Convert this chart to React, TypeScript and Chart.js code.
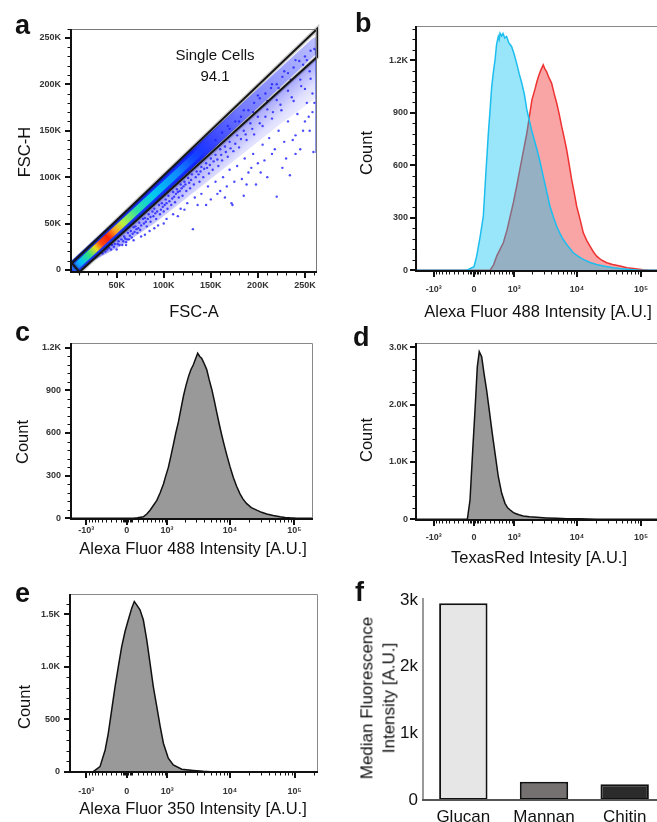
import React, { useEffect, useRef } from 'react';
import { Chart, registerables, Scale } from 'chart.js';

Chart.register(...registerables);

const FONT = 'Arial, "Liberation Sans", Helvetica, sans-serif';
const ASINH_C = 500;

// ---------- custom biexponential-like (asinh) scale, as FlowJo axes ----------
class AsinhScale extends (Scale as any) {
  static id = 'asinh';
  static defaults = {};
  determineDataLimits() {
    this.min = this.options.min;
    this.max = this.options.max;
  }
  buildTicks() {
    return [];
  }
  configure() {
    super.configure();
    this._tMin = Math.asinh(this.min / ASINH_C);
    this._tMax = Math.asinh(this.max / ASINH_C);
  }
  getLabelForValue(v: number) {
    return String(v);
  }
  getPixelForValue(v: number) {
    const t = Math.asinh(v / ASINH_C);
    return this.getPixelForDecimal((t - this._tMin) / (this._tMax - this._tMin));
  }
  getValueForPixel(p: number) {
    const d = this.getDecimalForPixel(p);
    return ASINH_C * Math.sinh(this._tMin + d * (this._tMax - this._tMin));
  }
}
Chart.register(AsinhScale as any);

type Pt = [number, number];

// ---------------- DATA ----------------
// panel a : FSC-A vs FSC-H (thousands)
const fscTickVals = [0, 50, 100, 150, 200, 250];
const fscTickLabels = ['0', '50K', '100K', '150K', '200K', '250K'];
const fscXTickVals = [50, 100, 150, 200, 250];
const fscXTickLabels = ['50K', '100K', '150K', '200K', '250K'];
const fscMinor = [10, 20, 30, 40, 60, 70, 80, 90, 110, 120, 130, 140, 160, 170, 180, 190, 210, 220, 230, 240, 260];
const gatePts: Pt[] = [[2.5, 7.5], [262.8, 259.5], [262.8, 229.3], [10.5, -2.2], [2.5, 7.5]];
const bandLine: Pt[] = [[4, 1.5], [262, 243]];
const coreLine: Pt[] = [[6, 3], [150, 138]];
const edgeStreak: Pt[] = [[262.2, 126], [262.2, 238]];
const spillUpper: Pt[] = [[25, 10], [160, 134], [262, 228]];
const spillLower: Pt[] = [[25, 10], [55, 26], [90, 50], [130, 82], [175, 118], [225, 158], [262, 185]];
const fscDots: Pt[] = [
  [40, 22], [45, 27], [48, 28], [52, 31], [55, 33], [58, 36], [62, 40], [65, 42], [68, 46], [70, 47],
  [74, 51], [78, 55], [80, 56], [84, 60], [88, 63], [90, 66], [95, 70], [98, 72], [102, 76], [105, 80],
  [110, 84], [114, 87], [118, 92], [122, 95], [126, 99], [130, 103], [135, 106], [140, 111], [145, 115], [150, 120],
  [155, 124], [160, 130], [165, 133], [170, 138], [178, 145], [185, 150], [192, 158], [200, 165], [210, 173], [220, 183],
  [232, 193], [245, 205], [255, 214],
  [50, 22], [56, 27], [60, 30], [63, 33], [66, 35], [72, 40], [75, 43], [82, 47], [86, 52], [92, 55],
  [96, 60], [100, 63], [104, 66], [108, 70], [112, 73], [116, 78], [120, 80], [124, 85], [128, 88], [132, 92],
  [138, 95], [142, 100], [148, 104], [152, 108], [158, 112], [162, 118], [168, 122], [174, 128], [180, 132], [188, 140],
  [196, 146], [205, 155], [215, 163], [225, 172], [238, 182], [250, 195],
  [60, 27], [68, 32], [76, 36], [85, 42], [94, 48], [103, 55], [110, 60], [118, 66], [125, 72], [133, 78],
  [140, 82], [147, 90], [155, 95], [163, 100], [170, 108], [178, 112], [186, 120], [195, 125], [205, 135], [212, 142],
  [222, 150], [232, 160], [242, 168], [252, 180], [258, 190],
  [131, 44], [173, 70], [220, 79], [234, 102], [259, 127], [145, 70], [160, 85], [175, 95], [190, 105], [200, 115],
  [215, 125], [228, 138], [240, 145], [250, 160], [258, 170], [185, 80], [210, 100], [230, 120], [245, 130], [255, 150],
  [172, 72], [198, 92],
  [155, 140], [162, 148], [170, 152], [176, 160], [182, 165], [190, 172], [196, 180], [202, 185], [208, 190], [214, 196],
  [220, 200], [226, 208], [232, 212], [238, 218], [244, 225], [250, 230], [256, 236], [240, 226], [228, 214], [215, 200],
  [200, 188], [185, 172], [168, 155], [248, 221], [235, 205], [222, 196], [210, 182], [195, 170], [180, 160], [260, 238],
  [252, 226],
  [35, 18], [38, 20], [42, 24], [44, 22], [47, 25], [51, 28], [53, 27], [57, 31], [59, 34], [61, 33],
  [64, 37], [67, 39], [69, 41], [71, 44], [73, 45], [76, 48], [79, 50], [81, 52], [83, 55], [86, 57],
  [89, 58], [91, 61], [93, 63], [97, 65], [99, 68], [101, 70], [103, 72], [106, 74], [109, 77], [111, 79],
  [113, 82], [115, 84], [117, 85], [119, 88], [121, 90], [123, 92], [127, 94], [129, 97], [134, 100], [137, 103],
  [139, 106], [143, 109], [146, 110], [149, 113], [153, 117], [157, 119], [161, 124], [166, 127], [171, 131], [176, 136],
  [182, 141], [187, 146], [194, 152], [202, 158], [208, 165], [216, 170], [224, 178], [236, 186], [246, 198], [256, 206],
  [80, 38], [90, 45], [100, 50], [115, 58], [122, 65], [136, 70], [150, 76], [157, 82], [167, 90], [183, 98],
  [193, 110], [207, 118], [218, 130], [237, 140], [248, 150], [254, 165], [260, 180], [226, 110], [240, 125], [203, 105],
  [188, 92], [165, 78],
];

// FlowJo intensity axes
const intTickVals = [-1000, 0, 1000, 10000, 100000];
const intTickLabels = ['-10³', '0', '10³', '10⁴', '10⁵'];
const intMinor = [-900, -800, -700, -600, -500, -400, -300, -200, -100, -75, -50, -25, 25, 50, 75, 100, 200, 300, 400,
  500, 600, 700, 800, 900, 2000, 3000, 4000, 5000, 6000, 7000, 8000, 9000, 20000, 30000, 40000, 50000, 60000, 70000,
  80000, 90000, 200000];

// panel b
const countTicks300 = [0, 300, 600, 900, 1200];
const countLabels300 = ['0', '300', '600', '900', '1.2K'];
const countMinor300 = [60, 120, 180, 240, 360, 420, 480, 540, 660, 720, 780, 840, 960, 1020, 1080, 1140, 1260, 1320, 1380];
const glucanCtrlX = [-1970, -300, -132, 0, 48, 110, 170, 220, 269, 300,
  339, 380, 414, 450, 493, 515, 537, 580, 619, 670,
  727, 800, 896, 990, 1097, 1210, 1339, 1480, 1623, 1790,
  1962, 2150, 2367, 2650, 2970, 3350, 3787, 4300, 4830, 5450,
  6120, 7300, 8770, 10500, 12570, 16000, 20300, 27000, 36800, 50000,
  67000, 96000, 262144];
const glucanCtrlY = [0, 0, 0, 20, 80, 190, 308, 560, 783, 900,
  1049, 1140, 1202, 1290, 1335, 1318, 1354, 1338, 1352, 1326,
  1335, 1298, 1278, 1236, 1183, 1124, 1069, 1004, 917, 852,
  793, 742, 688, 618, 536, 452, 365, 302, 251, 208,
  175, 136, 99, 78, 61, 44, 32, 22, 13, 8,
  4, 0, 0];
const glucanStainX = [-1970, -1955, -1940, 0, 200, 303, 380, 453, 540, 628,
  740, 847, 970, 1097, 1220, 1339, 1480, 1623, 1790, 1962,
  2100, 2220, 2350, 2495, 2700, 2970, 3150, 3350, 3650, 4020,
  4400, 4830, 5300, 5780, 6300, 6920, 7600, 8280, 9100, 9910,
  11200, 12570, 14200, 15970, 18000, 20300, 24000, 29100, 36000, 46800,
  60000, 75400, 108000, 137000, 262144];
const glucanStainY = [100, 100, 0, 0, 0, 0, 30, 80, 120, 156,
  230, 308, 390, 479, 560, 631, 710, 783, 880, 973,
  1010, 1040, 1075, 1106, 1140, 1173, 1150, 1135, 1100, 1069,
  1010, 955, 890, 821, 760, 688, 600, 517, 440, 365,
  290, 213, 170, 137, 105, 80, 58, 42, 32, 23,
  14, 9, 2, 0, 0];

// panel c
const glucanX = [-1800, 0, 119, 200, 314, 390, 467, 550, 648, 750,
  862, 950, 1047, 1150, 1274, 1400, 1547, 1700, 1870, 2050,
  2257, 2450, 2680, 2900, 3140, 3380, 3620, 3950, 4350, 4750,
  5210, 5700, 6220, 6800, 7450, 8150, 8900, 10000, 11290, 12700,
  14340, 16000, 18220, 21500, 26100, 31000, 37300, 47000, 60100, 72000,
  85900, 109000, 195000];
const glucanY = [0, 0, 0, 4, 11, 30, 57, 90, 126, 180,
  241, 300, 356, 430, 517, 600, 678, 770, 862, 935,
  1000, 1045, 1080, 1120, 1161, 1138, 1126, 1090, 1046, 975,
  908, 830, 747, 665, 586, 515, 448, 365, 287, 225,
  172, 135, 103, 75, 57, 42, 30, 20, 11, 6,
  3, 0, 0];

// panel d
const countTicksK = [0, 1000, 2000, 3000];
const countLabelsK = ['0', '1.0K', '2.0K', '3.0K'];
const countMinorK = [200, 400, 600, 800, 1200, 1400, 1600, 1800, 2200, 2400, 2600, 2800];
const mannanX = [-1970, -150, -121, -72, -23, 18, 59, 95, 139, 183,
  233, 287, 351, 414, 493, 582, 677, 760, 847, 930,
  1021, 1200, 1414, 1800, 2367, 3300, 4830, 7000, 11150, 15000,
  20300, 262144];
const mannanY = [0, 0, 0, 337, 1209, 1907, 2663, 2925, 2838, 2548,
  2257, 1907, 1501, 1152, 743, 454, 279, 200, 162, 130,
  105, 80, 58, 45, 35, 25, 17, 12, 8, 5,
  0, 0];

// panel e
const countTicks500 = [0, 500, 1000, 1500];
const countLabels500 = ['0', '500', '1.0K', '1.5K'];
const countMinor500 = [100, 200, 300, 400, 600, 700, 800, 900, 1100, 1200, 1300, 1400, 1600];
const chitinX = [-1860, -750, -552, -424, -353, -281, -214, -152, -90, -30,
  29, 90, 137, 182, 246, 314, 389, 466, 549, 646,
  751, 859, 1046, 1271, 1750, 2670, 3830, 4880, 231000];
const chitinY = [0, 0, 48, 207, 366, 589, 811, 1002, 1193, 1336,
  1448, 1559, 1622, 1591, 1543, 1448, 1257, 1034, 811, 620,
  429, 271, 128, 64, 23, 12, 3, 0, 0];

// panel f
const mfiCategories = ['Glucan', 'Mannan', 'Chitin'];
const mfiValues = [2950, 275, 236];
const mfiTicks = [0, 1000, 2000, 3000];
const mfiTickLabels = ['0', '1k', '2k', '3k'];

// ---------------- helpers ----------------
const toXY = (xs: number[], ys: number[]) => xs.map((x, i) => ({ x, y: ys[i] }));
const ptsXY = (p: Pt[]) => p.map(([x, y]) => ({ x, y }));

function axisOpts(type: string, min: number, max: number, vals: number[], labels: string[], pad: number,
  fit: { w?: number; h?: number }, size = 9, bold = true, color = '#333') {
  return {
    type, min, max, bounds: 'data',
    grid: { display: false, drawTicks: false },
    border: { display: false },
    afterBuildTicks: (s: any) => { s.ticks = vals.map((v) => ({ value: v })); },
    afterFit: (s: any) => {
      if (fit.w !== undefined) s.width = fit.w;
      if (fit.h !== undefined) s.height = fit.h;
    },
    ticks: {
      autoSkip: false, maxRotation: 0, minRotation: 0, padding: pad, color,
      font: { family: FONT, size, weight: bold ? 'bold' : 'normal' },
      callback: (v: number) => { const i = vals.indexOf(v); return i >= 0 ? labels[i] : ''; },
    },
  };
}

const axesPlugin = {
  id: 'axesPlugin',
  afterDraw(chart: any, _a: any, o: any) {
    if (!o || !o.on) return;
    const { ctx, chartArea, scales } = chart;
    const L = chartArea.left, R = chartArea.right, T = chartArea.top, B = chartArea.bottom;
    ctx.save();
    if (o.frame) {
      ctx.strokeStyle = o.frame;
      ctx.lineWidth = 1;
      ctx.beginPath();
      ctx.moveTo(L, T + 0.5); ctx.lineTo(R - 0.5, T + 0.5); ctx.lineTo(R - 0.5, B);
      ctx.stroke();
    }
    const xs = scales.x, ys = scales.y;
    const xt = (v: number, len: number, w: number) => {
      const p = xs.getPixelForValue(v);
      if (p < L - 0.5 || p > R + 0.5) return;
      const px = w % 2 === 1 ? Math.round(p) + 0.5 : Math.round(p);
      ctx.lineWidth = w; ctx.beginPath(); ctx.moveTo(px, B); ctx.lineTo(px, B + len); ctx.stroke();
    };
    const yt = (v: number, len: number, w: number) => {
      const p = ys.getPixelForValue(v);
      if (p < T - 0.5 || p > B + 0.5) return;
      const py = w % 2 === 1 ? Math.round(p) + 0.5 : Math.round(p);
      ctx.lineWidth = w; ctx.beginPath(); ctx.moveTo(L, py); ctx.lineTo(L - len, py); ctx.stroke();
    };
    ctx.strokeStyle = o.tickColor || '#111';
    (o.xMinor || []).forEach((v: number) => xt(v, 3.5, 1));
    (o.yMinor || []).forEach((v: number) => yt(v, 3.5, 1));
    (o.xMajor || []).forEach((v: number) => xt(v, 6, 2));
    (o.yMajor || []).forEach((v: number) => yt(v, 6, 2));
    ctx.strokeStyle = o.yAxisColor || '#111';
    ctx.lineWidth = o.yAxisWidth || 2;
    ctx.beginPath(); ctx.moveTo(L, T); ctx.lineTo(L, B + 1); ctx.stroke();
    ctx.strokeStyle = o.xAxisColor || '#111';
    ctx.lineWidth = o.xAxisWidth || 2;
    ctx.beginPath(); ctx.moveTo(L - 1, B); ctx.lineTo(o.xAxisTo ?? R, B); ctx.stroke();
    ctx.restore();
  },
};

function lineGrad(chart: any, p0: Pt, p1: Pt, stops: [number, string][]) {
  const { ctx, chartArea, scales } = chart;
  if (!chartArea || !scales.x) return stops[0][1];
  const g = ctx.createLinearGradient(
    scales.x.getPixelForValue(p0[0]), scales.y.getPixelForValue(p0[1]),
    scales.x.getPixelForValue(p1[0]), scales.y.getPixelForValue(p1[1]));
  stops.forEach(([o, c]) => g.addColorStop(o, c));
  return g;
}

const coreStops: [number, string][] = [[0, '#2a6cff'], [0.04, '#00c0ff'], [0.1, '#30e080'], [0.15, '#e8e020'],
  [0.19, '#ff4a10'], [0.24, '#ff2000'], [0.29, '#ffa020'], [0.35, '#b8f040'], [0.45, '#30e0a0'], [0.58, '#00c8f0'],
  [0.76, '#1088ff'], [1, 'rgba(20,60,255,0)']];
const bandStops: [number, string][] = [[0, '#2040ff'], [0.5, '#1428ff'], [0.7, 'rgba(30,40,255,0.62)'],
  [1, 'rgba(40,50,255,0.32)']];
const spillStops: [number, string][] = [[0, 'rgba(30,30,255,0.42)'], [0.5, 'rgba(30,30,255,0.14)'], [1, 'rgba(30,30,255,0.02)']];
const spillDir: Pt[] = [[120, 97.6], [149, 66]];

const baseOpts = (padding: any) => ({
  animation: false, responsive: false, events: [],
  layout: { padding },
});

function buildA(canvas: HTMLCanvasElement) {
  return new Chart(canvas, {
    type: 'scatter',
    data: {
      datasets: [
        { type: 'line', data: ptsXY(gatePts), borderColor: '#151515', borderWidth: 2, pointRadius: 0, fill: false, clip: 6 },
        { type: 'line', data: ptsXY(gatePts), borderColor: 'rgba(0,0,0,0.2)', borderWidth: 4.5, pointRadius: 0, fill: false, clip: 6 },
        { type: 'line', data: ptsXY(edgeStreak), borderColor: 'rgba(20,40,210,0.85)', borderWidth: 2, pointRadius: 0, fill: false },
        { type: 'scatter', data: ptsXY(fscDots), pointRadius: 1.2, backgroundColor: 'rgba(30,30,255,0.8)', borderColor: 'rgba(30,30,255,0.8)', pointBorderWidth: 0 },
        { type: 'line', data: ptsXY(coreLine), borderColor: (c: any) => lineGrad(c.chart, coreLine[0], coreLine[1], coreStops), borderWidth: 7, pointRadius: 0, borderCapStyle: 'round', fill: false },
        { type: 'line', data: ptsXY(bandLine), borderColor: (c: any) => lineGrad(c.chart, bandLine[0], bandLine[1], bandStops), borderWidth: 14, pointRadius: 0, borderCapStyle: 'round', fill: false },
        { type: 'line', data: ptsXY(spillUpper), borderColor: 'rgba(0,0,0,0)', borderWidth: 1, pointRadius: 0, fill: '+1', backgroundColor: (c: any) => lineGrad(c.chart, spillDir[0], spillDir[1], spillStops) },
        { type: 'line', data: ptsXY(spillLower), borderColor: 'rgba(0,0,0,0)', borderWidth: 1, pointRadius: 0, fill: false },
      ],
    } as any,
    options: {
      ...baseOpts({ left: 0, top: 29, right: 13, bottom: 0 }),
      plugins: {
        legend: { display: false }, tooltip: { enabled: false },
        axesPlugin: { on: true, frame: '#777', xMajor: fscXTickVals, xMinor: fscMinor, yMajor: fscTickVals, yMinor: fscMinor },
      },
      scales: {
        x: axisOpts('linear', 1.5, 262.8, fscXTickVals, fscXTickLabels, 8, { h: 28 }),
        y: axisOpts('linear', -2.15, 259.5, fscTickVals, fscTickLabels, 10, { w: 71 }),
      },
    } as any,
    plugins: [axesPlugin],
  });
}

function histChart(canvas: HTMLCanvasElement, p: any) {
  return new Chart(canvas, {
    type: 'line',
    data: { datasets: p.datasets.map((d: any) => ({ pointRadius: 0, borderWidth: 1.5, fill: 'origin', tension: 0, ...d })) },
    options: {
      ...baseOpts(p.padding),
      plugins: {
        legend: { display: false }, tooltip: { enabled: false },
        axesPlugin: { on: true, frame: '#888', xMajor: intTickVals, xMinor: intMinor, yMajor: p.yTicks, yMinor: p.yMinor },
      },
      scales: {
        x: axisOpts('asinh', p.xMin, p.xMax, intTickVals, intTickLabels, p.xPad, { h: p.xH }),
        y: axisOpts('linear', p.yMin, p.yMax, p.yTicks, p.yLabels, p.yPad, { w: p.yW }),
      },
    } as any,
    plugins: [axesPlugin],
  });
}

const buildB = (c: HTMLCanvasElement) => histChart(c, {
  datasets: [
    { data: toXY(glucanCtrlX, glucanCtrlY), borderColor: 'rgb(28,190,240)', backgroundColor: 'rgba(0,190,240,0.4)' },
    { data: toXY(glucanStainX, glucanStainY), borderColor: 'rgb(238,50,50)', backgroundColor: 'rgba(240,30,30,0.4)' },
  ],
  padding: { left: 0, top: 26, right: 7, bottom: 0 }, xH: 29, yW: 86,
  xMin: -1970, xMax: 262144, yMin: -5, yMax: 1395, yTicks: countTicks300, yLabels: countLabels300, yMinor: countMinor300,
  xPad: 13, yPad: 8,
});

const gray = { borderColor: '#111', backgroundColor: '#999999' };

const buildC = (c: HTMLCanvasElement) => histChart(c, {
  datasets: [{ data: toXY(glucanX, glucanY), ...gray }],
  padding: { left: 0, top: 43, right: 17, bottom: 0 }, xH: 31, yW: 71,
  xMin: -1800, xMax: 195000, yMin: -5, yMax: 1233, yTicks: countTicks300, yLabels: countLabels300, yMinor: countMinor300,
  xPad: 6, yPad: 10,
});

const buildD = (c: HTMLCanvasElement) => histChart(c, {
  datasets: [{ data: toXY(mannanX, mannanY), ...gray }],
  padding: { left: 0, top: 43, right: 7, bottom: 0 }, xH: 30, yW: 86,
  xMin: -1970, xMax: 262144, yMin: -12, yMax: 3077, yTicks: countTicksK, yLabels: countLabelsK, yMinor: countMinorK,
  xPad: 12, yPad: 8,
});

const buildE = (c: HTMLCanvasElement) => histChart(c, {
  datasets: [{ data: toXY(chitinX, chitinY), ...gray }],
  padding: { left: 0, top: 34, right: 12, bottom: 0 }, xH: 50, yW: 70,
  xMin: -1860, xMax: 231000, yMin: -3, yMax: 1694, yTicks: countTicks500, yLabels: countLabels500, yMinor: countMinor500,
  xPad: 14, yPad: 10,
});

function buildF(canvas: HTMLCanvasElement) {
  return new Chart(canvas, {
    type: 'bar',
    data: {
      labels: mfiCategories,
      datasets: [{
        data: mfiValues, backgroundColor: ['#e6e6e6', '#767171', '#2b2b2b'], borderColor: '#111', borderWidth: 2,
        borderSkipped: false, barPercentage: 0.6, categoryPercentage: 1,
      }],
    },
    options: {
      ...baseOpts({ left: 0, top: 28, right: 5, bottom: 0 }),
      plugins: {
        legend: { display: false }, tooltip: { enabled: false },
        axesPlugin: { on: true, yAxisColor: '#777', yAxisWidth: 1.5, xAxisColor: '#555', xAxisWidth: 2 },
      },
      scales: {
        x: {
          type: 'category', offset: true, grid: { display: false, drawTicks: false }, border: { display: false },
          afterFit: (s: any) => { s.height = 22; },
          ticks: { padding: 7, color: '#111', font: { family: FONT, size: 17 }, maxRotation: 0, autoSkip: false },
        },
        y: axisOpts('linear', 0, 3030, mfiTicks, mfiTickLabels, 5, { w: 93 }, 17, false, '#111'),
      },
    } as any,
    plugins: [axesPlugin],
  });
}

// ---------------- components ----------------
function ChartBox({ left, top, width, height, build }: any) {
  const ref = useRef<HTMLCanvasElement>(null);
  useEffect(() => {
    const chart = build(ref.current);
    return () => chart.destroy();
  }, []);
  return (
    <canvas ref={ref} width={width} height={height}
      style={{ position: 'absolute', left, top, width, height, display: 'block' }} />
  );
}

function Letter({ x, base, children }: any) {
  const size = 27;
  return (
    <div style={{ position: 'absolute', left: x, top: base - 0.8465 * size, fontSize: size, lineHeight: `${size}px`, fontWeight: 'bold', whiteSpace: 'nowrap' }}>
      {children}
    </div>
  );
}

function CText({ cx, cy, size = 16.5, rotate = false, lineGap, children }: any) {
  return (
    <div style={{
      position: 'absolute', left: cx, top: cy, fontSize: size, lineHeight: `${lineGap || size}px`, whiteSpace: 'nowrap',
      textAlign: 'center', color: '#111', transform: `translate(-50%, -50%)${rotate ? ' rotate(-90deg)' : ''}`,
    }}>
      {children}
    </div>
  );
}

export default function App() {
  return (
    <div style={{ position: 'fixed', left: 0, top: 0, width: 657, height: 822, overflow: 'hidden', background: '#fff', fontFamily: FONT, color: '#111' }}>
      <ChartBox left={0} top={0} width={330} height={300} build={buildA} />
      <ChartBox left={330} top={0} width={345} height={300} build={buildB} />
      <ChartBox left={0} top={300} width={330} height={250} build={buildC} />
      <ChartBox left={330} top={300} width={345} height={250} build={buildD} />
      <ChartBox left={0} top={560} width={330} height={262} build={buildE} />
      <ChartBox left={330} top={570} width={340} height={252} build={buildF} />

      <Letter x={15} base={35}>a</Letter>
      <Letter x={355} base={33}>b</Letter>
      <Letter x={15} base={342}>c</Letter>
      <Letter x={353} base={347}>d</Letter>
      <Letter x={15} base={603}>e</Letter>
      <Letter x={355} base={602}>f</Letter>

      <CText cx={215} cy={54} size={15}>Single Cells</CText>
      <CText cx={215} cy={75} size={15}>94.1</CText>

      <CText cx={24} cy={152} rotate>FSC-H</CText>
      <CText cx={194} cy={311}>FSC-A</CText>

      <CText cx={366} cy={153} rotate>Count</CText>
      <CText cx={538} cy={311}>Alexa Fluor 488 Intensity [A.U.]</CText>

      <CText cx={22} cy={442} rotate>Count</CText>
      <CText cx={193} cy={548}>Alexa Fluor 488 Intensity [A.U.]</CText>

      <CText cx={366} cy={440} rotate>Count</CText>
      <CText cx={539} cy={557}>TexasRed Intesity [A.U.]</CText>

      <CText cx={24} cy={707} rotate>Count</CText>
      <CText cx={193} cy={808}>Alexa Fluor 350 Intensity [A.U.]</CText>

      <CText cx={377.5} cy={698} size={17} lineGap={21.6} rotate>
        Median Fluorescence<br />Intensity [A.U.]
      </CText>
    </div>
  );
}
